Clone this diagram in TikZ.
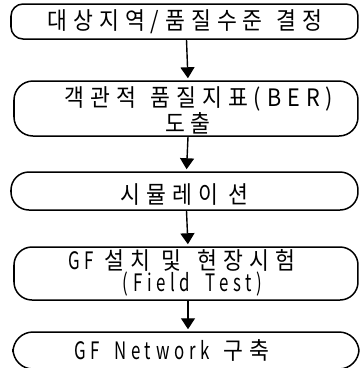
\documentclass[tikz,border=0pt]{standalone}
\usepackage{fontspec}
\usepackage{graphicx}
\newfontfamily\kr[LetterSpace=25,FakeStretch=0.9]{Noto Sans CJK KR}
\newcommand\nar[1]{\scalebox{0.78}[1]{#1}}
\usetikzlibrary{arrows.meta}
\begin{document}
\begin{tikzpicture}[x=1pt,y=-1pt,
  box/.style={draw, line width=1.5pt, rounded corners=#1, inner sep=0pt},
  txt/.style={inner sep=0pt, font=\kr\fontsize{24}{26}\selectfont},
  arr/.style={line width=1.4pt, -{Triangle[width=14pt,length=11pt]}, shorten >=2pt}]
\useasboundingbox (0,0) rectangle (360,368);
\clip (0,0) rectangle (360,368);
% boxes
\node[box=12pt, minimum width=347pt, minimum height=35pt] (b1) at (184.5,21.5) {};
\node[box=19pt, minimum width=344pt, minimum height=55pt] (b2) at (186,108.5) {};
\node[box=18pt, minimum width=347pt, minimum height=38pt] (b3) at (184.5,191) {};
\node[box=18pt, minimum width=344pt, minimum height=53pt] (b4) at (186,273.5) {};
\node[box=20pt, minimum width=346pt, minimum height=37pt] (b5) at (186,350.5) {};
% texts
\node[txt] (t1) at (185,21.5) {대상지역/품질수준\hspace{14pt}결정};
\node[txt] (t2a) at (199,98.5) {객관적\hspace{14pt}품질지표(BER)};
\node[txt] (t2b) at (188,123) {도출};
\node[txt] (t3) at (184.5,195) {시뮬레이\hspace{10pt}션};
\node[txt] (t4a) at (182,260.5) {\nar{GF}\hspace{10pt}설치\hspace{12pt}및\hspace{16pt}현장시험};
\node[txt] (t4b) at (192.5,284) {\nar{(Field\hspace{20pt}Test)}};
\node[txt] (t5) at (172,350) {\nar{GF\hspace{18pt}Network}\hspace{14pt}구축};
% arrows
\draw[arr] ([xshift=2pt]b1.south) -- ([xshift=2pt]b2.north);
\draw[arr] ([xshift=2pt]b2.south) -- ([xshift=2pt]b3.north);
\draw[arr] ([xshift=2pt]b3.south) -- ([xshift=2pt]b4.north);
\draw[arr] ([xshift=2pt]b4.south) -- ([xshift=2pt]b5.north);
\end{tikzpicture}
\end{document}
